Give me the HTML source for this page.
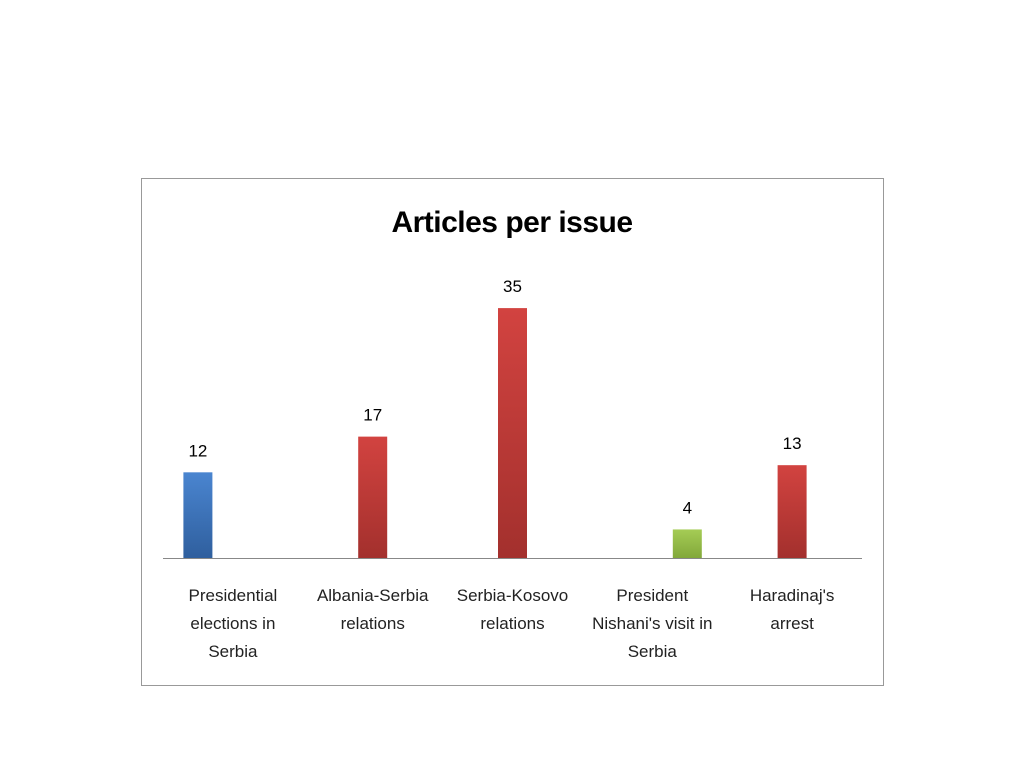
<!DOCTYPE html>
<html><head><meta charset="utf-8"><style>
body{margin:0;width:1024px;height:768px;background:#fff;font-family:"Liberation Sans",sans-serif;}
svg{position:absolute;left:0;top:0}
</style></head><body>
<svg id="c" width="1024" height="768">
<defs>
<linearGradient id="gb" x1="0" y1="0" x2="0" y2="1"><stop offset="0" stop-color="#4a85d0"/><stop offset="1" stop-color="#2f5f9e"/></linearGradient>
<linearGradient id="gr" x1="0" y1="0" x2="0" y2="1"><stop offset="0" stop-color="#d24340"/><stop offset="1" stop-color="#a3302d"/></linearGradient>
<linearGradient id="gg" x1="0" y1="0" x2="0" y2="1"><stop offset="0" stop-color="#a5cc55"/><stop offset="1" stop-color="#82a83a"/></linearGradient>
</defs>
<rect x="141.5" y="178.5" width="742" height="507" fill="#fff" stroke="#999"/>
<text x="512" y="232" text-anchor="middle" font-size="30" font-weight="bold" fill="#000" style="letter-spacing:-0.5px">Articles per issue</text>
<line x1="163" y1="558.5" x2="862" y2="558.5" stroke="#888"/>
</svg>
<script>
const categories=[["Presidential","elections in","Serbia"],["Albania-Serbia","relations"],["Serbia-Kosovo","relations"],["President","Nishani's visit in","Serbia"],["Haradinaj's","arrest"]];
const seriesBlue=[12,null,null,null,null];
const seriesRed=[null,17,35,null,13];
const seriesGreen=[null,null,null,4,null];
const svg=document.getElementById('c');
const NS='http://www.w3.org/2000/svg';
const x0=163,catW=139.8,base=558,pxPer=7.14,barW=29;
const xc=i=>x0+catW*(i+0.5);
const y=v=>base-v*pxPer;
const series=[{d:seriesBlue,off:-35,f:'url(#gb)',n:'blue'},{d:seriesRed,off:0,f:'url(#gr)',n:'red'},{d:seriesGreen,off:35,f:'url(#gg)',n:'green'}];
series.forEach(s=>{s.d.forEach((v,i)=>{if(v==null)return;
const cx=xc(i)+s.off;
const r=document.createElementNS(NS,'rect');
r.setAttribute('x',cx-barW/2);r.setAttribute('y',y(v));r.setAttribute('width',barW);r.setAttribute('height',base-y(v));r.setAttribute('fill',s.f);


svg.appendChild(r);
const t=document.createElementNS(NS,'text');
t.setAttribute('x',cx);t.setAttribute('y',y(v)-16);t.setAttribute('text-anchor','middle');t.setAttribute('font-size','17');t.textContent=v;


svg.appendChild(t);});});
categories.forEach((lines,i)=>{
const t=document.createElementNS(NS,'text');
t.setAttribute('text-anchor','middle');t.setAttribute('font-size','17');t.setAttribute('fill','#222');


lines.forEach((l,j)=>{const ts=document.createElementNS(NS,'tspan');ts.setAttribute('x',xc(i));ts.setAttribute('y',601+j*28);ts.textContent=l;t.appendChild(ts);});
svg.appendChild(t);});
</script>
</body></html>
